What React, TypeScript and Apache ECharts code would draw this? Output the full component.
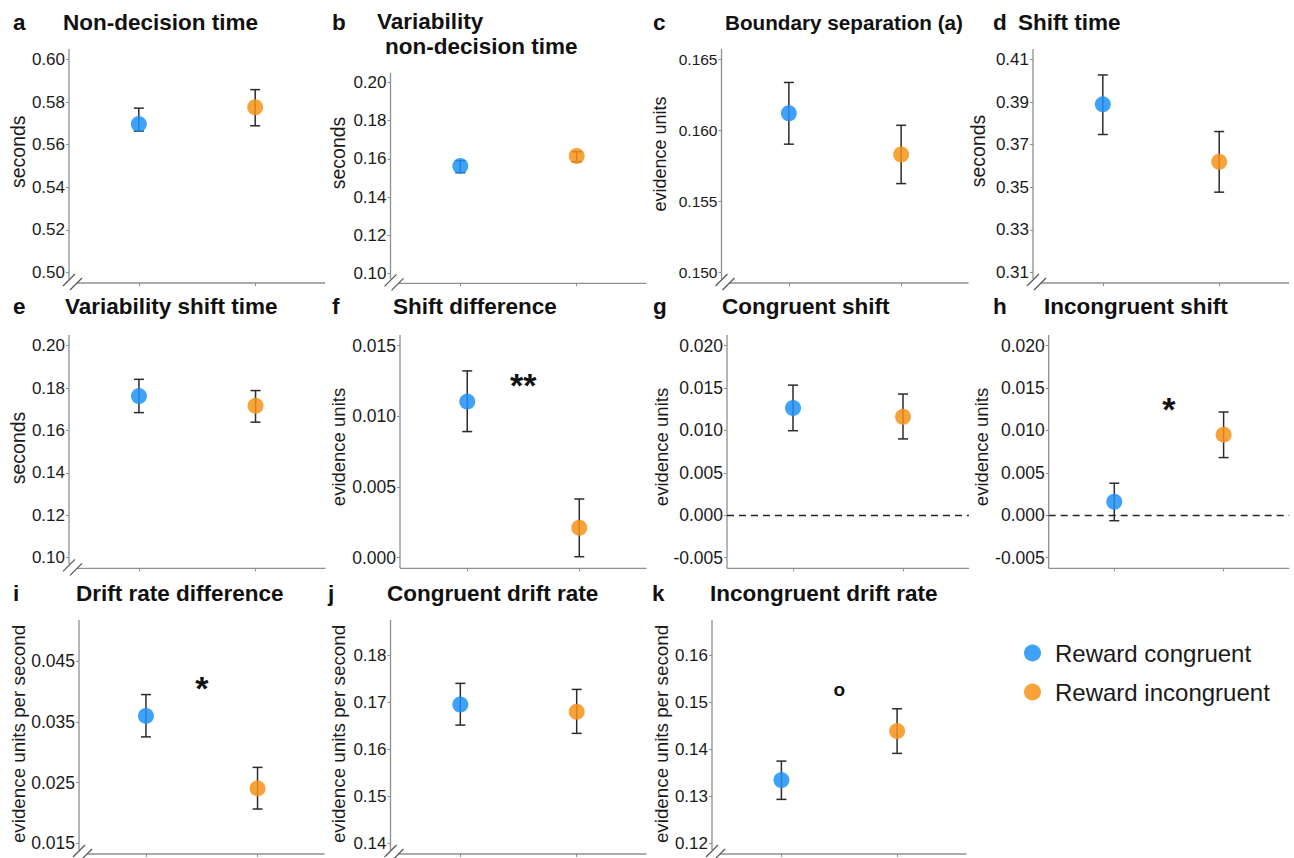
import React, { useEffect, useRef } from 'react';
import * as echarts from 'echarts';

// ---------------- data ----------------
const panelLetters = ['a', 'b', 'c', 'd', 'e', 'f', 'g', 'h', 'i', 'j', 'k'];
const panelTitles = [
  ['Non-decision time'],
  ['Variability', 'non-decision time'],
  ['Boundary separation (a)'],
  ['Shift time'],
  ['Variability shift time'],
  ['Shift difference'],
  ['Congruent shift'],
  ['Incongruent shift'],
  ['Drift rate difference'],
  ['Congruent drift rate'],
  ['Incongruent drift rate'],
];
const yAxisTitles = [
  'seconds', 'seconds', 'evidence units', 'seconds',
  'seconds', 'evidence units', 'evidence units', 'evidence units',
  'evidence units per second', 'evidence units per second', 'evidence units per second',
];
const seriesNames = ['Reward congruent', 'Reward incongruent'];
const categoryPositions = [1, 2];

const congruentMean = [0.5697, 0.1563, 0.16122, 0.389, 0.1762, 0.01104, 0.01264, 0.00159, 0.03597, 0.1695, 0.13345];
const congruentLow = [0.5664, 0.1528, 0.15904, 0.3748, 0.1684, 0.00892, 0.00997, -0.00064, 0.03252, 0.16513, 0.12935];
const congruentHigh = [0.5772, 0.159, 0.16339, 0.4028, 0.1841, 0.01321, 0.01534, 0.00378, 0.03948, 0.17399, 0.13748];
const incongruentMean = [0.5776, 0.1615, 0.15831, 0.362, 0.1716, 0.00212, 0.01162, 0.0095, 0.02404, 0.16796, 0.14386];
const incongruentLow = [0.5689, 0.1585, 0.15626, 0.3477, 0.1639, 0.00007, 0.009, 0.0068, 0.02065, 0.16337, 0.13912];
const incongruentHigh = [0.5859, 0.1637, 0.16037, 0.3762, 0.1788, 0.00415, 0.01429, 0.01217, 0.0275, 0.17271, 0.14859];

const yTickValues = [
  [0.5, 0.52, 0.54, 0.56, 0.58, 0.6],
  [0.1, 0.12, 0.14, 0.16, 0.18, 0.2],
  [0.15, 0.155, 0.16, 0.165],
  [0.31, 0.33, 0.35, 0.37, 0.39, 0.41],
  [0.1, 0.12, 0.14, 0.16, 0.18, 0.2],
  [0, 0.005, 0.01, 0.015],
  [-0.005, 0, 0.005, 0.01, 0.015, 0.02],
  [-0.005, 0, 0.005, 0.01, 0.015, 0.02],
  [0.015, 0.025, 0.035, 0.045],
  [0.14, 0.15, 0.16, 0.17, 0.18],
  [0.12, 0.13, 0.14, 0.15, 0.16],
];
const yTickDecimals = [2, 2, 3, 2, 2, 3, 3, 3, 3, 2, 2];
const yLimits = [
  [0.495, 0.605],
  [0.095, 0.205],
  [0.14925, 0.16575],
  [0.305, 0.415],
  [0.095, 0.205],
  [-0.00075, 0.01575],
  [-0.00625, 0.02125],
  [-0.00625, 0.02125],
  [0.01325, 0.05175],
  [0.13775, 0.18745],
  [0.11775, 0.16745],
];
const axisBreak = [true, true, true, true, true, false, false, false, true, true, true];
const zeroReference = [false, false, false, false, false, false, true, true, false, false, false];
const significanceText = ['', '', '', '', '', '**', '', '*', '*', '', 'o'];
const significanceY = [0, 0, 0, 0, 0, 0.01257, 0, 0.01307, 0.04134, 0, 0.1522];
const significanceX = 1.5;

// ---------------- layout ----------------
const gridBoxes = [
  [69, 49, 256, 234],
  [390.5, 72.7, 256, 210.6],
  [721.5, 49, 247, 234],
  [1033, 49, 256, 234],
  [69, 335, 256.5, 233.3],
  [400, 335, 246.5, 233.3],
  [727, 335, 242, 233.3],
  [1048.7, 335, 240.5, 233.3],
  [79, 620, 245.5, 234],
  [390.5, 620, 256, 234],
  [712, 620, 254.5, 234],
];
const letterPos = [[13, 22], [332, 22], [653, 22], [993, 22], [13, 306.7], [332, 306.7], [653, 306.7], [993, 306.7], [13, 593], [328, 593], [652, 593]];
const titlePos = [[63, 22], [377, 21.7], [725, 22], [1018, 22], [65, 306.7], [393, 306.7], [722, 306.7], [1044, 306.7], [76, 593], [387, 593], [710, 593]];
const titleLineOffsets = [[0, 0], [0, 0, 8, 25], [0, 0], [0, 0], [0, 0], [0, 0], [0, 0], [0, 0], [0, 0], [0, 0], [0, 0]];
const axisTitlePos = [[18.3, 151.7], [338, 153], [660, 154], [978, 151], [18, 448], [338, 447], [661, 447], [981, 447], [18, 734], [338, 734], [661, 734]];
const titleFont = [22.5, 22.5, 20.7, 22.5, 22.5, 22.5, 22.5, 22.5, 22.5, 22.5, 22.5];
const tickFont = [17, 17, 15.5, 17, 17, 17.5, 17.5, 17.5, 17.5, 17, 17];
const axisTitleFont = [19.5, 19.5, 18, 19.5, 19.5, 18.5, 18.5, 18.5, 18.8, 18.8, 18.8];

const FONT = "'Liberation Sans', Arial, Helvetica, sans-serif";
const BLUE = '#1d90f6';
const ORANGE = '#f79217';
const AXIS_GRAY = '#8f8f8f';
const TEXT = '#1a1a1a';

function buildOption() {
  const grid: any[] = [];
  const xAxis: any[] = [];
  const yAxis: any[] = [];
  const series: any[] = [];
  const graphic: any[] = [];

  panelLetters.forEach((letter, i) => {
    const [l, t, w, h] = gridBoxes[i];
    grid.push({ left: l, top: t, width: w, height: h, containLabel: false, outerBoundsMode: 'none' });
    xAxis.push({
      type: 'value', gridIndex: i, min: 0.4, max: 2.6, position: 'bottom',
      axisLine: { show: false, onZero: false },
      axisTick: { show: true, customValues: categoryPositions, length: 3, lineStyle: { color: AXIS_GRAY, width: 1 } },
      axisLabel: { show: false },
      splitLine: { show: false },
    });
    const dec = yTickDecimals[i];
    yAxis.push({
      type: 'value', gridIndex: i, min: yLimits[i][0], max: yLimits[i][1], position: 'left',
      axisLine: { show: false, onZero: false },
      axisTick: { show: true, customValues: yTickValues[i], length: 3, lineStyle: { color: AXIS_GRAY, width: 1 } },
      axisLabel: {
        show: true, customValues: yTickValues[i], margin: 4,
        formatter: (v: number) => v.toFixed(dec),
        fontFamily: FONT, fontSize: tickFont[i], color: TEXT,
      },
      splitLine: { show: false },
    });

    const brk = axisBreak[i];
    // axis lines + break marks
    series.push({
      type: 'custom', xAxisIndex: i, yAxisIndex: i, silent: true, z: 1,
      data: [[0.4, yLimits[i][0]]],
      renderItem: (params: any) => {
        const cs = params.coordSys;
        const X = cs.x, T = cs.y, Y = cs.y + cs.height, R = cs.x + cs.width;
        const st = { stroke: AXIS_GRAY, lineWidth: 1.3 };
        const children: any[] = [
          { type: 'line', shape: { x1: X, y1: T, x2: X, y2: brk ? Y - 4 : Y }, style: st },
          { type: 'line', shape: { x1: brk ? X + 8 : X, y1: Y, x2: R, y2: Y }, style: st },
        ];
        if (brk) {
          const bs = { stroke: '#555', lineWidth: 1.2 };
          children.push({ type: 'line', shape: { x1: X - 6, y1: Y + 3, x2: X + 6, y2: Y - 9 }, style: bs });
          children.push({ type: 'line', shape: { x1: X + 1, y1: Y + 7, x2: X + 13, y2: Y - 5 }, style: bs });
        }
        return { type: 'group', children };
      },
    });

    // error bars
    series.push({
      type: 'custom', xAxisIndex: i, yAxisIndex: i, silent: true, z: 3,
      data: [
        [categoryPositions[0], congruentLow[i], congruentHigh[i]],
        [categoryPositions[1], incongruentLow[i], incongruentHigh[i]],
      ],
      encode: { x: 0, y: [1, 2] },
      renderItem: (params: any, api: any) => {
        const x = api.value(0);
        const p1 = api.coord([x, api.value(1)]);
        const p2 = api.coord([x, api.value(2)]);
        const w = 5;
        const st = { stroke: '#2b2b2b', lineWidth: 1.5 };
        return {
          type: 'group', children: [
            { type: 'line', shape: { x1: p1[0], y1: p1[1], x2: p2[0], y2: p2[1] }, style: st },
            { type: 'line', shape: { x1: p1[0] - w, y1: p1[1], x2: p1[0] + w, y2: p1[1] }, style: st },
            { type: 'line', shape: { x1: p2[0] - w, y1: p2[1], x2: p2[0] + w, y2: p2[1] }, style: st },
          ],
        };
      },
    });

    // points
    const zeroLine = zeroReference[i]
      ? {
        silent: true, symbol: 'none', label: { show: false },
        lineStyle: { type: [7, 5], color: '#222', width: 1.3 },
        data: [{ yAxis: 0 }],
      }
      : undefined;
    series.push({
      type: 'scatter', name: seriesNames[0], xAxisIndex: i, yAxisIndex: i, z: 4,
      symbolSize: 16, itemStyle: { color: BLUE, opacity: 0.85 },
      data: [[categoryPositions[0], congruentMean[i]]],
      markLine: zeroLine,
    });
    series.push({
      type: 'scatter', name: seriesNames[1], xAxisIndex: i, yAxisIndex: i, z: 4,
      symbolSize: 16, itemStyle: { color: ORANGE, opacity: 0.85 },
      data: [[categoryPositions[1], incongruentMean[i]]],
    });

    // significance marker
    if (significanceText[i]) {
      const txt = significanceText[i];
      series.push({
        type: 'custom', xAxisIndex: i, yAxisIndex: i, silent: true, z: 5,
        data: [[significanceX, significanceY[i]]],
        renderItem: (params: any, api: any) => {
          const p = api.coord([api.value(0), api.value(1)]);
          const isStar = txt.indexOf('*') >= 0;
          return {
            type: 'text', x: p[0], y: p[1] + (isStar ? 5 : -2),
            style: {
              text: txt, align: 'center', verticalAlign: 'middle',
              fontFamily: FONT, fontWeight: 'bold', fontSize: isStar ? 34 : 19, fill: '#111',
            },
          };
        },
      });
    }

    // titles
    graphic.push({
      type: 'text', x: letterPos[i][0], y: letterPos[i][1],
      style: { text: letter, fontFamily: FONT, fontWeight: 'bold', fontSize: 22.5, fill: '#111', align: 'left', verticalAlign: 'middle' },
    });
    panelTitles[i].forEach((line, k) => {
      const offs = titleLineOffsets[i];
      const dx = k === 0 ? offs[0] : offs[2];
      const dy = k === 0 ? offs[1] : offs[3];
      graphic.push({
        type: 'text', x: titlePos[i][0] + dx, y: titlePos[i][1] + dy,
        style: { text: line, fontFamily: FONT, fontWeight: 'bold', fontSize: titleFont[i], fill: '#111', align: 'left', verticalAlign: 'middle' },
      });
    });
    graphic.push({
      type: 'text', x: axisTitlePos[i][0], y: axisTitlePos[i][1], rotation: Math.PI / 2,
      style: { text: yAxisTitles[i], fontFamily: FONT, fontSize: axisTitleFont[i], fill: TEXT, align: 'center', verticalAlign: 'middle' },
    });
  });

  return {
    animation: false,
    backgroundColor: '#ffffff',
    grid, xAxis, yAxis, series, graphic,
    legend: {
      data: seriesNames,
      orient: 'vertical', left: 1024, top: 641, padding: 0,
      icon: 'circle', itemWidth: 17, itemHeight: 17, itemGap: 15,
      selectedMode: false,
      textStyle: { fontFamily: FONT, fontSize: 24, color: TEXT, padding: [0, 0, 0, 9] },
    },
  };
}

export default function App() {
  const ref = useRef<HTMLDivElement>(null);
  useEffect(() => {
    if (!ref.current) return;
    const chart = echarts.init(ref.current, undefined, { renderer: 'svg' });
    chart.setOption(buildOption() as any);
    return () => chart.dispose();
  }, []);
  return <div ref={ref} style={{ position: 'absolute', left: 0, top: 0, width: 1294, height: 858 }} />;
}
